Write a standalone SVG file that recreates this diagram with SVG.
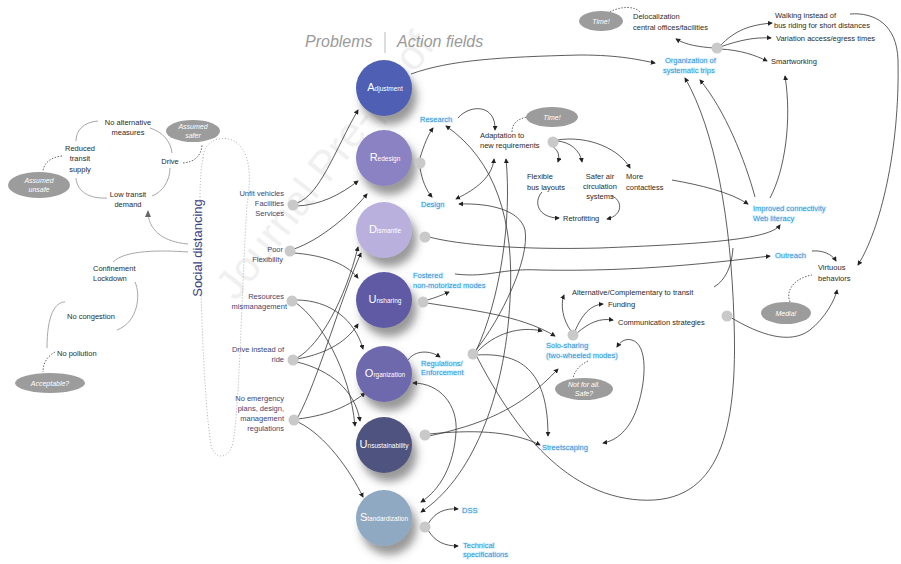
<svg xmlns="http://www.w3.org/2000/svg" width="901" height="564" viewBox="0 0 901 564">
<style>
.t{font-family:"Liberation Sans",Arial,sans-serif;font-size:7.5px;fill:#2b2b2b}
.p{font-family:"Liberation Sans",Arial,sans-serif;font-size:7.5px;fill:#3f456e;text-anchor:end}
.b{font-family:"Liberation Sans",Arial,sans-serif;font-size:7.5px;fill:#2a92d2;stroke:#e2f4ff;stroke-width:2;paint-order:stroke}
.e{font-family:"Liberation Sans",Arial,sans-serif;font-size:7px;fill:#fff;font-style:italic;text-anchor:middle}
.c{font-family:"Liberation Sans",Arial,sans-serif;font-size:6.5px;fill:#fff;text-anchor:middle}
.h{font-family:"Liberation Sans",Arial,sans-serif;font-size:16px;fill:#9a9a9a;font-style:italic}
.ln{fill:none;stroke:#333;stroke-width:0.8;marker-end:url(#ah)}
.lb{fill:none;stroke:#333;stroke-width:0.8;marker-end:url(#ah);marker-start:url(#ah)}
.gl{fill:none;stroke:#a8a8a8;stroke-width:1}
.ds{fill:none;stroke:#555;stroke-width:0.9;stroke-dasharray:1.5 1.5}
.dt{fill:none;stroke:#b0b0b0;stroke-width:1;stroke-dasharray:1 2}
.dot{fill:#c9c9c9}
.ell{fill:#9c9c9c}
</style>
<defs>
<marker id="ah" viewBox="0 0 6 6" refX="5" refY="3" markerWidth="5" markerHeight="5" markerUnits="userSpaceOnUse" orient="auto-start-reverse"><path d="M0,0 L6,3 L0,6 z" fill="#222"/></marker>
<filter id="sh" x="-40%" y="-40%" width="200%" height="200%"><feDropShadow dx="5" dy="9" stdDeviation="4" flood-color="#444" flood-opacity="0.55"/></filter>
</defs>
<rect width="901" height="564" fill="#fff"/>
<text x="236" y="302" transform="rotate(-52 236 302)" font-family="Liberation Sans,Arial,sans-serif" font-size="42" fill="#f0f0f0">Journal Pre-proof</text>

<g id="header">
<text class="h" x="305" y="47">Problems</text>
<line x1="385" y1="32" x2="385" y2="53" stroke="#bbb" stroke-width="1"/>
<text class="h" x="397" y="47">Action fields</text>
</g>

<g id="connectors">
<path class="gl" d="M98,121 C84,122 76,130 76,141"/>
<path class="gl" d="M150,128 C163,132 171,142 172,153"/>
<path class="gl" d="M170,168 C170,180 163,192 152,196"/>
<path class="gl" d="M107,198 C90,199 77,192 76,178"/>
<path class="ds" d="M62,156 C52,157 44,162 43,171"/>
<path class="ds" d="M183,163 C195,162 202,155 202,144"/>
<path class="dt" d="M203,158 C204,142 218,135 232,140 C250,148 252,175 247,205 C241,300 240,400 233,443 C229,460 214,460 211,445 C204,400 200,300 200,200 C200,180 201,168 203,158"/>
<path class="gl" d="M188,244 C165,242 150,232 148,214"/>
<path d="M145,217 L148,210 L151,217 z" fill="#666"/>
<path class="gl" d="M188,252 C160,250 125,250 113,262"/>
<path class="gl" d="M135,282 C141,295 138,322 117,330"/>
<path class="gl" d="M65,302 C55,302 47,315 47,348"/>
<path class="ds" d="M55,352 C48,356 43,362 43,372"/>
<path class="ln" d="M297,203 C320,195 335,150 358,110"/>
<path class="ln" d="M297,206 C320,205 340,195 358,181"/>
<path class="ln" d="M294,249 C320,240 350,215 367,194"/>
<path class="ln" d="M294,253 C320,255 345,262 358,278"/>
<path class="ln" d="M296,300 C330,300 355,320 363,349"/>
<path class="ln" d="M296,303 C320,320 350,370 355,426"/>
<path class="ln" d="M297,359 C320,355 345,345 358,324"/>
<path class="ln" d="M297,358 C320,345 345,300 358,247"/>
<path class="ln" d="M297,362 C330,370 355,390 360,421"/>
<path class="ln" d="M298,419 C330,415 350,405 365,393"/>
<path class="ln" d="M298,417 C318,380 340,300 361,253"/>
<path class="ln" d="M298,422 C325,435 350,470 363,497"/>
<path class="ln" d="M411,74 C450,60 500,57 580,55 C620,55 640,60 655,63"/>
<path class="ln" d="M420,158 C424,145 428,135 433,128"/>
<path class="ln" d="M420,168 C422,180 426,190 432,197"/>
<path class="ln" d="M458,118 C470,104 496,104 495,130"/>
<path class="ds" d="M512,132 C512,123 518,119 527,117"/>
<path class="ln" d="M552,146 C558,150 560,155 558,162"/>
<path class="ln" d="M557,141 C570,142 580,150 582,162"/>
<path class="ln" d="M557,140 C590,135 620,150 630,168"/>
<path class="ln" d="M542,192 C533,202 538,218 559,218"/>
<path class="ln" d="M612,196 C622,200 624,215 607,219"/>
<path class="lb" d="M456,199 C470,192 492,180 494,159"/>
<path class="lb" d="M421,512 C470,480 505,400 510,300 C515,220 495,160 446,126"/>
<path class="lb" d="M413,383 C440,383 458,405 456,432 C454,465 440,490 421,502"/>
<path class="ln" d="M476,351 C500,300 512,220 506,159"/>
<path class="ln" d="M476,350 C500,320 530,260 525,230 C520,210 490,203 459,204"/>
<path class="ln" d="M477,352 C495,333 520,326 542,331"/>
<path class="ln" d="M477,355 C525,352 548,375 548,436"/>
<path class="ln" d="M477,357 C510,420 560,495 640,500 C720,505 738,430 734,320 C731,220 715,130 685,78"/>
<path class="ln" d="M408,360 C415,350 430,350 440,357"/>
<path class="ln" d="M427,300 C435,298 442,295 449,292"/>
<path class="ln" d="M427,303 C470,310 520,315 555,336"/>
<path class="ln" d="M455,274 C490,278 500,268 540,270 C640,272 720,262 770,256"/>
<path class="ln" d="M429,237 C460,245 520,250 600,248 C700,244 770,240 780,225"/>
<path class="ln" d="M714,48 C700,47 686,45 676,39"/>
<path class="ln" d="M720,46 C735,30 750,25 772,23"/>
<path class="ln" d="M720,47 C740,40 755,37 771,38"/>
<path class="ln" d="M720,49 C740,50 755,55 767,61"/>
<path class="ds" d="M610,12 C620,6 635,6 640,12"/>
<path class="ln" d="M850,14 C875,12 897,25 898,60 C900,150 880,230 858,265"/>
<path class="ln" d="M672,180 C700,185 730,192 748,204"/>
<path class="ln" d="M770,198 C785,170 792,120 785,76"/>
<path class="ln" d="M755,197 C745,160 725,110 700,80"/>
<path fill="none" stroke="#333" stroke-width="0.8" d="M714,287 C726,280 732,265 733,248"/>
<path class="ln" d="M812,251 C822,250 832,254 836,261"/>
<path class="ds" d="M790,302 C785,290 795,278 812,275"/>
<path class="ln" d="M730,317 C760,335 790,345 810,330 C825,318 835,300 837,290"/>
<path class="ln" d="M571,331 C563,320 560,305 564,295"/>
<path class="ln" d="M575,331 C582,315 590,305 603,304"/>
<path class="ln" d="M577,333 C590,322 600,318 613,320"/>
<path class="ds" d="M588,361 C580,365 575,370 573,378"/>
<path class="lb" d="M603,443 C620,440 632,425 638,405 C646,380 648,345 632,340 C625,338 620,342 617,347"/>
<path class="ln" d="M429,434 C470,430 510,430 540,445"/>
<path class="ln" d="M429,436 C480,425 520,410 558,369"/>
<path class="ln" d="M428,524 C435,512 445,508 458,509"/>
<path class="ln" d="M428,530 C435,542 445,546 458,546"/>
</g>

<g id="n-social"><text x="202" y="248" transform="rotate(-90 202 248)" text-anchor="middle" font-family="Liberation Sans,Arial,sans-serif" font-size="13" fill="#3d4282">Social distancing</text></g>
<g id="n-noalt"><text class="t" x="128" y="125" text-anchor="middle">No alternative</text><text class="t" x="128" y="135" text-anchor="middle">measures</text></g>
<g id="n-reduced"><text class="t" x="80" y="151" text-anchor="middle">Reduced</text><text class="t" x="80" y="161" text-anchor="middle">transit</text><text class="t" x="80" y="172" text-anchor="middle">supply</text></g>
<g id="n-drive"><text class="t" x="170" y="164" text-anchor="middle">Drive</text></g>
<g id="n-lowdemand"><text class="t" x="128" y="197" text-anchor="middle">Low transit</text><text class="t" x="128" y="207" text-anchor="middle">demand</text></g>
<g id="n-safer"><ellipse class="ell" cx="193" cy="131" rx="27" ry="11"/><text class="e" x="193" y="129">Assumed</text><text class="e" x="193" y="138">safer</text></g>
<g id="n-unsafe"><ellipse class="ell" cx="39" cy="185" rx="31" ry="13"/><text class="e" x="39" y="183">Assumed</text><text class="e" x="39" y="192">unsafe</text></g>
<g id="n-confinement"><text class="t" x="93" y="271">Confinement</text><text class="t" x="93" y="281">Lockdown</text></g>
<g id="n-nocongestion"><text class="t" x="67" y="319">No congestion</text></g>
<g id="n-nopollution"><text class="t" x="57" y="356">No pollution</text></g>
<g id="n-acceptable"><ellipse class="ell" cx="50" cy="383" rx="35" ry="10"/><text class="e" x="50" y="386">Acceptable?</text></g>

<g id="n-unfit"><text class="p" x="284" y="196">Unfit vehicles</text><text class="p" x="284" y="206">Facilities</text><text class="p" x="284" y="216">Services</text><circle class="dot" cx="293" cy="205" r="5.5"/></g>
<g id="n-poor"><text class="p" x="283" y="252">Poor</text><text class="p" x="283" y="262">Flexibility</text><circle class="dot" cx="290" cy="251" r="5.5"/></g>
<g id="n-resources"><text class="p" x="284" y="299">Resources</text><text class="p" x="287" y="309">mismanagement</text><circle class="dot" cx="292" cy="301" r="5.5"/></g>
<g id="n-driveinstead"><text class="p" x="284" y="352">Drive instead of</text><text class="p" x="284" y="362">ride</text><circle class="dot" cx="293" cy="360" r="5.5"/></g>
<g id="n-noemergency"><text class="p" x="284" y="401">No emergency</text><text class="p" x="284" y="411">plans, design,</text><text class="p" x="284" y="421">management</text><text class="p" x="284" y="431">regulations</text><circle class="dot" cx="294" cy="420" r="5.5"/></g>

<g id="n-adjustment"><circle cx="384" cy="88" r="28" fill="#4f5fb3" filter="url(#sh)"/><text class="c" x="385" y="91"><tspan font-size="11">A</tspan>djustment</text></g>
<g id="n-redesign"><circle cx="384" cy="158" r="28" fill="#8b82c3" filter="url(#sh)"/><text class="c" x="385" y="161"><tspan font-size="11">R</tspan>edesign</text><circle class="dot" cx="420" cy="163" r="5.5"/></g>
<g id="n-dismantle"><circle cx="384" cy="230" r="28" fill="#b9b0de" filter="url(#sh)"/><text class="c" x="385" y="233"><tspan font-size="11">D</tspan>ismantle</text><circle class="dot" cx="425" cy="237" r="5.5"/></g>
<g id="n-unsharing"><circle cx="384" cy="300" r="28" fill="#5f5aa3" filter="url(#sh)"/><text class="c" x="385" y="303"><tspan font-size="11">U</tspan>nsharing</text><circle class="dot" cx="423" cy="302" r="5.5"/></g>
<g id="n-organization"><circle cx="384" cy="374" r="28" fill="#6e68ad" filter="url(#sh)"/><text class="c" x="385" y="377"><tspan font-size="11">O</tspan>rganization</text></g>
<g id="n-unsustainability"><circle cx="384" cy="445" r="28" fill="#4f537f" filter="url(#sh)"/><text class="c" x="384" y="448" font-size="6"><tspan font-size="11">U</tspan>nsustainability</text><circle class="dot" cx="425" cy="435" r="5.5"/></g>
<g id="n-standardization"><circle cx="384" cy="518" r="28" fill="#8fa9c2" filter="url(#sh)"/><text class="c" x="384" y="521" font-size="6"><tspan font-size="11">S</tspan>tandardization</text><circle class="dot" cx="425" cy="527" r="5.5"/></g>

<g id="n-research"><text class="b" x="420" y="122">Research</text></g>
<g id="n-design"><text class="b" x="421" y="207">Design</text></g>
<g id="n-adaptation"><text class="t" x="480" y="138">Adaptation to</text><text class="t" x="480" y="148">new requirements</text><circle class="dot" cx="553" cy="142" r="5.5"/></g>
<g id="n-time1"><ellipse class="ell" cx="552" cy="117" rx="26" ry="10"/><text class="e" x="552" y="120">Time!</text></g>
<g id="n-flexible"><text class="t" x="527" y="179">Flexible</text><text class="t" x="527" y="190">bus layouts</text></g>
<g id="n-safer-air"><text class="t" x="600" y="179" text-anchor="middle">Safer air</text><text class="t" x="600" y="189" text-anchor="middle">circulation</text><text class="t" x="600" y="199" text-anchor="middle">systems</text></g>
<g id="n-contactless"><text class="t" x="626" y="179">More</text><text class="t" x="626" y="190">contactless</text></g>
<g id="n-retrofitting"><text class="t" x="563" y="221">Retrofitting</text></g>
<g id="n-orgtrips"><text class="b" x="665" y="63">Organization of</text><text class="b" x="663" y="73">systematic trips</text><circle class="dot" cx="717" cy="48" r="5.5"/></g>
<g id="n-time2"><ellipse class="ell" cx="601" cy="21" rx="22" ry="10"/><text class="e" x="601" y="24">Time!</text></g>
<g id="n-delocalization"><text class="t" x="633" y="19">Delocalization</text><text class="t" x="633" y="30">central offices/facilities</text></g>
<g id="n-walking"><text class="t" x="775" y="18">Walking instead of</text><text class="t" x="774" y="28">bus riding for short distances</text></g>
<g id="n-variation"><text class="t" x="776" y="41">Variation access/egress times</text></g>
<g id="n-smartworking"><text class="t" x="771" y="64">Smartworking</text></g>
<g id="n-improved"><text class="b" x="753" y="211">Improved connectivity</text><text class="b" x="753" y="221">Web literacy</text></g>
<g id="n-outreach"><text class="b" x="775" y="258">Outreach</text></g>
<g id="n-virtuous"><text class="t" x="818" y="270">Virtuous</text><text class="t" x="818" y="281">behaviors</text></g>
<g id="n-media"><ellipse class="ell" cx="786" cy="313" rx="25" ry="11"/><text class="e" x="786" y="316">Media!</text></g>
<g id="n-fostered"><text class="b" x="413" y="278">Fostered</text><text class="b" x="413" y="288">non-motorized modes</text></g>
<g id="n-regulations"><text class="b" x="421" y="366">Regulations/</text><text class="b" x="421" y="375">Enforcement</text><circle class="dot" cx="473" cy="354" r="5.5"/></g>
<g id="n-solo"><text class="b" x="546" y="348">Solo-sharing</text><text class="b" x="546" y="358">(two-wheeled modes)</text><circle class="dot" cx="573" cy="335" r="5.5"/></g>
<g id="n-alternative"><text class="t" x="572" y="295">Alternative/Complementary to transit</text></g>
<g id="n-funding"><text class="t" x="608" y="307">Funding</text></g>
<g id="n-communication"><text class="t" x="618" y="325">Communication strategies</text><circle class="dot" cx="727" cy="316" r="5.5"/></g>
<g id="n-notforall"><ellipse class="ell" cx="584" cy="389" rx="29" ry="11"/><text class="e" x="584" y="387">Not for all.</text><text class="e" x="584" y="396">Safe?</text></g>
<g id="n-streetscaping"><text class="b" x="542" y="450">Streetscaping</text></g>
<g id="n-dss"><text class="b" x="462" y="513">DSS</text></g>
<g id="n-technical"><text class="b" x="463" y="548">Technical</text><text class="b" x="463" y="557">specifications</text></g>
</svg>
